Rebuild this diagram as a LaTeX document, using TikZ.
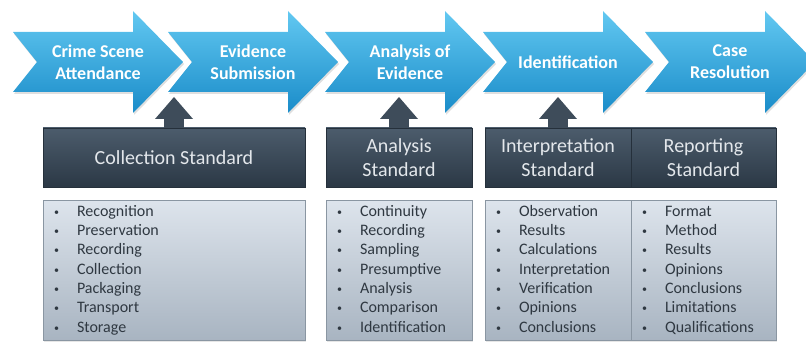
\documentclass[tikz,border=0pt]{standalone}
\usepackage{fontspec}
\setmainfont{Carlito}
\usetikzlibrary{arrows.meta,shadows,positioning}

\definecolor{chevtop}{HTML}{62C8F1}
\definecolor{chevbot}{HTML}{1A8CC9}
\definecolor{headtop}{HTML}{4C5C6C}
\definecolor{headbot}{HTML}{2B3845}
\definecolor{headline}{HTML}{25303B}
\definecolor{headtext}{HTML}{E3E7EB}
\definecolor{listtop}{HTML}{DDE4EC}
\definecolor{listbot}{HTML}{A8B4C1}
\definecolor{listline}{HTML}{8A96A2}
\definecolor{listtext}{HTML}{2F3841}
\definecolor{upcol}{HTML}{3E4C5A}

\newcommand\blt{\strut\makebox[23pt][l]{\raisebox{1pt}{\fontsize{10}{10}\selectfont\textbullet}}}

\begin{document}
\begin{tikzpicture}[x=1pt,y=1pt,
    chevron/.style={top color=chevtop,bottom color=chevbot,
        drop shadow={opacity=.25,shadow xshift=1pt,shadow yshift=-2pt}},
    chevtext/.style={text=white,font=\fontsize{18}{22}\selectfont\bfseries,align=center},
    headbox/.style={draw=headline,top color=headtop,bottom color=headbot,text=headtext,
        font=\fontsize{20}{24}\selectfont,align=center,minimum width=#1,minimum height=59pt,
        inner sep=0pt,drop shadow={opacity=.2,shadow xshift=1pt,shadow yshift=-1.5pt}},
    listbox/.style={draw=listline,top color=listtop,bottom color=listbot,text=listtext,
        font=\fontsize{16}{19.3}\selectfont,align=left,text width=#1,inner xsep=11pt,
        inner ysep=0pt,minimum height=140pt,
        drop shadow={opacity=.2,shadow xshift=1pt,shadow yshift=-1.5pt}},
    uparrow/.style={draw=upcol,line width=20pt,
        -{Triangle[width=38pt 0 0,length=22pt 0 0,line width=0pt 0 0]}}]

    \useasboundingbox (0,0) rectangle (806,343);

    % process chevrons
    \foreach \x/\name/\txt in {13/crime/{Crime Scene\\Attendance},
                               168/submit/{Evidence\\Submission},
                               325/analyse/{Analysis of\\Evidence},
                               483/ident/{Identification},
                               645/resolve/{Case\\Resolution}}
    {
        \path[chevron] (\x,311) -- ++(120,0) -- ++(0,21) -- ++(50,-51) -- ++(-50,-51)
            -- ++(0,21) -- ++(-120,0) -- ++(24,30) -- cycle;
        \node[chevtext] (\name) at (\x+85,281) {\txt};
    }

    % standards
    \node[headbox=262pt] (collect) at (174,185.5) {Collection Standard};
    \node[headbox=146pt] (analysis) at (399,185.5) {Analysis\\Standard};
    \node[headbox=146pt] (interp) at (558,185.5) {Interpretation\\Standard};
    \node[headbox=145pt] (report) at (703.5,185.5) {Reporting\\Standard};

    \coordinate (tipline) at (0,246);
    \draw[uparrow] (collect.north) -- (collect.north |- tipline);
    \draw[uparrow] (analysis.north) -- (analysis.north |- tipline);
    \draw[uparrow] (interp.north) -- (interp.north |- tipline);

    % lists
    \node[listbox=240pt,below=13pt of collect] (collectlist)
        {\blt Recognition\\\blt Preservation\\\blt Recording\\\blt Collection\\
         \blt Packaging\\\blt Transport\\\blt Storage};
    \node[listbox=124pt,below=13pt of analysis] (analysislist)
        {\blt Continuity\\\blt Recording\\\blt Sampling\\\blt Presumptive\\
         \blt Analysis\\\blt Comparison\\\blt Identification};
    \node[listbox=124pt,below=13pt of interp] (interplist)
        {\blt Observation\\\blt Results\\\blt Calculations\\\blt Interpretation\\
         \blt Verification\\\blt Opinions\\\blt Conclusions};
    \node[listbox=123pt,below=13pt of report] (reportlist)
        {\blt Format\\\blt Method\\\blt Results\\\blt Opinions\\
         \blt Conclusions\\\blt Limitations\\\blt Qualifications};
\end{tikzpicture}
\end{document}
